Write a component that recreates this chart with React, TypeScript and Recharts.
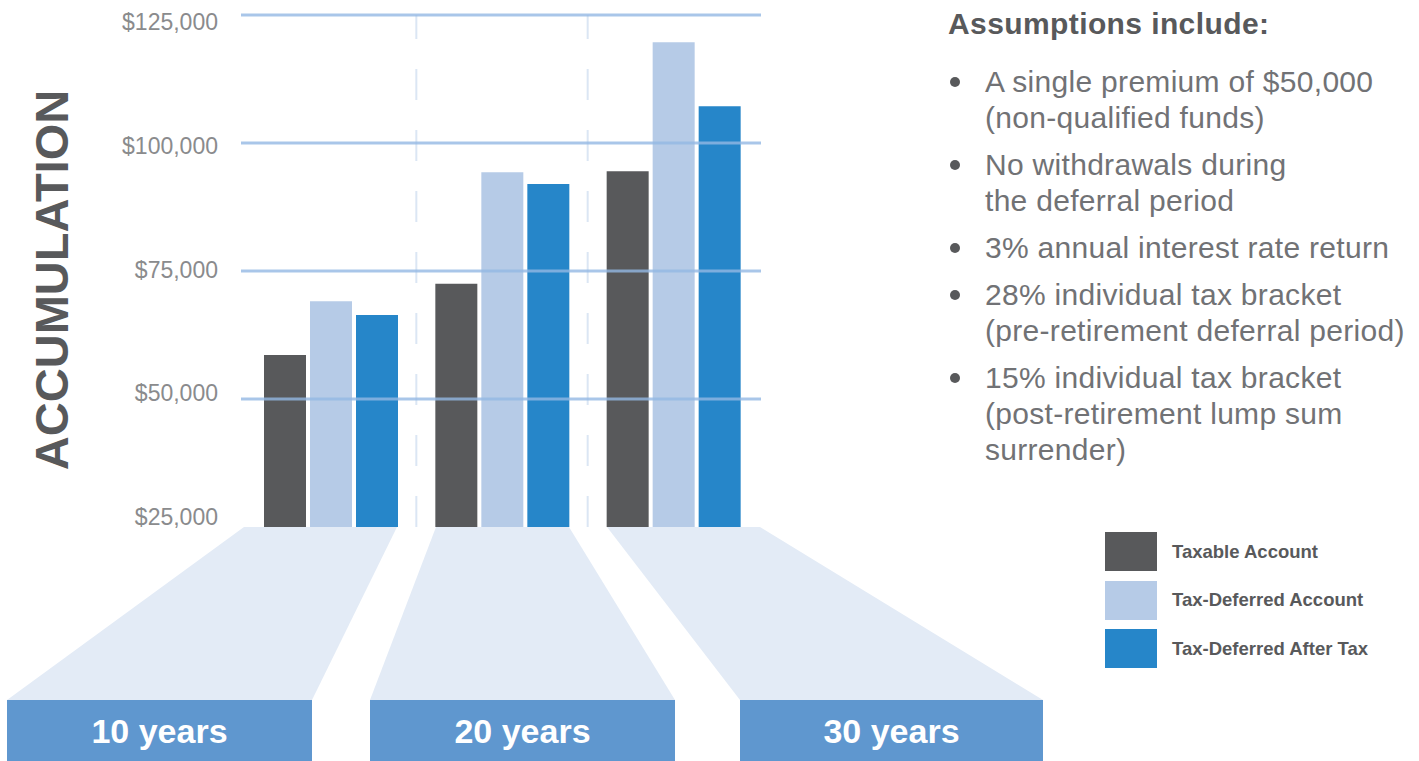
import React from 'react'
import { BarChart, Bar, XAxis, YAxis, ReferenceLine, Legend } from 'recharts'

// values
const categories = ['10 years', '20 years', '30 years']
const taxableAccount = [58600, 72500, 94500]
const taxDeferredAccount = [69100, 94300, 119700]
const taxDeferredAfterTax = [66400, 92000, 107200]
const yTicks = [25000, 50000, 75000, 100000, 125000]
const gridValues = [50000, 75000, 100000, 125000]
const dividerAfter = ['10 years', '20 years']
const seriesOrder = ['taxable', 'deferred', 'afterTax']

const assumptions = [
  ['A single premium of $50,000', '(non-qualified funds)'],
  ['No withdrawals during', 'the deferral period'],
  ['3% annual interest rate return'],
  ['28% individual tax bracket', '(pre-retirement deferral period)'],
  ['15% individual tax bracket', '(post-retirement lump sum', 'surrender)'],
]

const data = categories.map((period, i) => ({
  period,
  taxable: taxableAccount[i],
  deferred: taxDeferredAccount[i],
  afterTax: taxDeferredAfterTax[i],
}))

// decorative banners under each group (fan shape + label box)
const banners = [
  { top: [244, 397], bottom: [7, 312] },
  { top: [436, 569], bottom: [370, 675] },
  { top: [607, 760], bottom: [740, 1043] },
]

const FONT = '"Liberation Sans", Arial, Helvetica, sans-serif'

function PeriodTick(props: any) {
  const { y, payload, index } = props
  const b = banners[index]
  if (!b) return null
  const boxTop = y + 173
  return (
    <g>
      <polygon
        points={`${b.top[0]},${y} ${b.top[1]},${y} ${b.bottom[1]},${boxTop} ${b.bottom[0]},${boxTop}`}
        fill="#e3ebf6"
      />
      <rect
        x={b.bottom[0]}
        y={boxTop}
        width={b.bottom[1] - b.bottom[0]}
        height={61}
        fill="#5f97cf"
      />
      <text
        x={(b.bottom[0] + b.bottom[1]) / 2}
        y={boxTop + 43}
        textAnchor="middle"
        fill="#ffffff"
        fontSize={34}
        fontWeight={700}
        fontFamily={FONT}
      >
        {payload.value}
      </text>
    </g>
  )
}

// labels in the original sit on a slightly tighter spacing than the grid
function MoneyTick(props: any) {
  const { x, y, payload } = props
  const shift = -10 + ((payload.value - 25000) / 100000) * 17
  return (
    <text
      x={x}
      y={y + shift}
      dy="0.355em"
      textAnchor="end"
      fill="#8a8b8d"
      fontSize={23}
      fontFamily={FONT}
    >
      {`$${payload.value.toLocaleString('en-US')}`}
    </text>
  )
}

function AxisTitle(props: any) {
  const { viewBox } = props
  const x = viewBox.x + 51
  const y = viewBox.y + viewBox.height / 2 + 9
  return (
    <text
      x={x}
      y={y}
      transform={`rotate(-90 ${x} ${y})`}
      textAnchor="middle"
      dominantBaseline="central"
      fill="#58595b"
      fontSize={47}
      fontWeight={700}
      fontFamily={FONT}
    >
      ACCUMULATION
    </text>
  )
}

function LegendContent(props: any) {
  const { payload = [] } = props
  const items = [...payload].sort(
    (a: any, b: any) =>
      seriesOrder.indexOf(a.dataKey) - seriesOrder.indexOf(b.dataKey)
  )
  return (
    <div>
      {items.map((p: any) => (
        <div key={p.value} style={styles.legendRow}>
          <span style={{ ...styles.legendSwatch, background: p.color }} />
          <span style={styles.legendText}>{p.value}</span>
        </div>
      ))}
    </div>
  )
}

export default function App() {
  return (
    <div style={styles.page}>
      <BarChart
        width={1419}
        height={761}
        data={data}
        margin={{ top: 15, right: 658, bottom: 0, left: 0 }}
        barSize={42}
        barGap={4}
        style={{ fontFamily: FONT }}
      >
        <XAxis
          dataKey="period"
          height={234}
          axisLine={false}
          tickLine={false}
          tickSize={0}
          tickMargin={0}
          interval={0}
          padding={{ left: 4, right: 2 }}
          tick={<PeriodTick />}
        />
        <YAxis
          width={241}
          domain={[25000, 125000]}
          ticks={yTicks}
          axisLine={false}
          tickLine={false}
          tickSize={0}
          tickMargin={23}
          tick={<MoneyTick />}
          label={{ content: <AxisTitle /> }}
        />
        {dividerAfter.map((c) => (
          <ReferenceLine
            key={c}
            x={c}
            position="end"
            stroke="#dbe6f4"
            strokeWidth={2}
            strokeDasharray="31 30"
          />
        ))}
        <Bar
          dataKey="taxable"
          name="Taxable Account"
          fill="#58595b"
          isAnimationActive={false}
        />
        <Bar
          dataKey="deferred"
          name="Tax-Deferred Account"
          fill="#b6cbe7"
          isAnimationActive={false}
        />
        <Bar
          dataKey="afterTax"
          name="Tax-Deferred After Tax"
          fill="#2686c9"
          isAnimationActive={false}
        />
        {gridValues.map((v) => (
          <ReferenceLine
            key={v}
            y={v}
            stroke="#93b8e3"
            strokeOpacity={0.8}
            strokeWidth={3}
          />
        ))}
        <Legend
          layout="vertical"
          align="center"
          verticalAlign="middle"
          content={<LegendContent />}
          wrapperStyle={{ left: 1105, top: 532, width: 300 }}
        />
      </BarChart>

      <div style={styles.notes}>
        <div style={styles.notesTitle}>Assumptions include:</div>
        {assumptions.map((lines, i) => (
          <div key={i} style={styles.item}>
            <span style={styles.bullet} />
            {lines.map((l, j) => (
              <div key={j}>{l}</div>
            ))}
          </div>
        ))}
      </div>
    </div>
  )
}

const styles: Record<string, React.CSSProperties> = {
  page: {
    position: 'absolute',
    left: 0,
    top: 0,
    width: 1419,
    height: 761,
    overflow: 'hidden',
    background: '#ffffff',
    fontFamily: FONT,
  },
  notes: {
    position: 'absolute',
    left: 948,
    top: 6,
    color: '#717275',
    fontSize: 30,
    lineHeight: '36px',
    letterSpacing: '0.3px',
    whiteSpace: 'nowrap',
  },
  notesTitle: {
    color: '#58595b',
    fontWeight: 700,
    fontSize: 30,
    letterSpacing: '0.4px',
    marginBottom: 22,
  },
  item: {
    position: 'relative',
    paddingLeft: 37,
    marginBottom: 11,
  },
  bullet: {
    position: 'absolute',
    left: 2,
    top: 13,
    width: 10,
    height: 10,
    borderRadius: '50%',
    background: '#58595b',
  },
  legendRow: {
    display: 'flex',
    alignItems: 'center',
    height: 39,
    marginBottom: 9.5,
  },
  legendSwatch: {
    display: 'inline-block',
    width: 52,
    height: 39,
  },
  legendText: {
    marginLeft: 15,
    fontSize: 18.5,
    fontWeight: 700,
    color: '#58595b',
    fontFamily: FONT,
  },
}
